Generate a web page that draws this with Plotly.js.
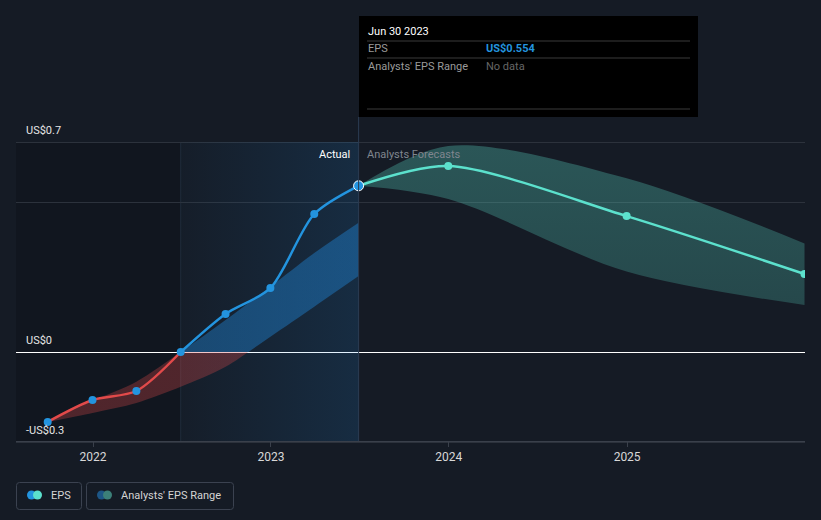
<!DOCTYPE html>
<html>
<head>
<meta charset="utf-8">
<script src="https://cdn.plot.ly/plotly-3.0.1.min.js"></script>
<style>
html,body{margin:0;padding:0;background:#151b25;}
#chart{width:821px;height:520px;}
</style>
</head>
<body>
<div id="chart"></div>
<script>
// ---- data ----
const actualDates = ['2021-09-30','2021-12-31','2022-03-31','2022-06-30','2022-09-30','2022-12-31','2023-03-31','2023-06-30'];
const actualEps   = [-0.233, -0.16, -0.13, 0.0, 0.127, 0.213, 0.46, 0.554];

const rangeDates  = ['2021-09-30','2021-12-31','2022-03-31','2022-06-30','2022-09-30','2022-12-31','2023-03-31','2023-06-30'];
const rangeHigh   = [-0.233, -0.163, -0.099, 0.0, 0.107, 0.218, 0.33, 0.431];
const rangeLow    = [-0.233, -0.203, -0.17, -0.116, -0.049, 0.051, 0.151, 0.253];

const forecastDates = ['2023-06-30','2023-12-31','2024-12-31','2025-12-31'];
const forecastEps   = [0.554, 0.62, 0.453, 0.26];
const forecastHigh  = [0.554, 0.687, 0.579, 0.362];
const forecastLow   = [0.554, 0.51, 0.268, 0.157];

const yTickVals  = [-0.3, 0, 0.5, 0.7];
const yTickText  = ['-US$0.3', 'US$0', '', 'US$0.7'];
const xTickVals  = ['2022-01-01','2023-01-01','2024-01-01','2025-01-01'];
const xTickText  = ['2022','2023','2024','2025'];

const tooltipDate  = 'Jun 30 2023';
const tooltipEps   = 'US$0.554';
const tooltipRange = 'No data';

// split index where the actual series crosses zero
const splitIdx = 3;
const pastStart = actualDates[splitIdx];        // start of highlighted year
const pastEnd   = actualDates[actualDates.length - 1];

const BLUE = '#2394df', TEAL = '#5ce1cd', RED = '#e24a4a';
const FONT = 'Roboto, "Open Sans", sans-serif';

const traces = [
  // highlighted "last year" background with horizontal gradient
  {x:[pastStart, pastEnd, pastEnd, pastStart, pastStart], y:[-0.3,-0.3,0.7,0.7,-0.3],
   mode:'lines', line:{width:0}, fill:'toself', hoverinfo:'skip', showlegend:false,
   fillgradient:{type:'horizontal', colorscale:[[0,'rgba(33,150,243,0.02)'],[1,'rgba(33,150,243,0.14)']]}},
  // past analysts' range
  {x:rangeDates, y:rangeLow, mode:'lines', line:{width:0, shape:'spline', smoothing:0.8}, hoverinfo:'skip', showlegend:false},
  {x:rangeDates, y:rangeHigh, mode:'lines', line:{width:0, shape:'spline', smoothing:0.8}, fill:'tonexty', hoverinfo:'skip', showlegend:false,
   fillgradient:{type:'vertical', start:-0.3, stop:0.7,
     colorscale:[[0,'rgba(226,74,74,0.30)'],[0.2999,'rgba(226,74,74,0.30)'],[0.3001,'rgba(33,150,243,0.36)'],[1,'rgba(33,150,243,0.36)']]}},
  // forecast range
  {x:forecastDates, y:forecastLow, mode:'lines', line:{width:0, shape:'spline', smoothing:0.9}, hoverinfo:'skip', showlegend:false},
  {x:forecastDates, y:forecastHigh, mode:'lines', line:{width:0, shape:'spline', smoothing:0.9}, fill:'tonexty', hoverinfo:'skip', showlegend:false,
   fillgradient:{type:'vertical', start:0.1, stop:0.7,
     colorscale:[[0,'rgba(94,225,205,0.22)'],[1,'rgba(94,225,205,0.30)']]}},
  // actual EPS: negative part red, rest blue
  {x:actualDates.slice(0, splitIdx+1), y:actualEps.slice(0, splitIdx+1), mode:'lines',
   line:{color:RED, width:2.5, shape:'spline', smoothing:0.8}, hoverinfo:'skip', showlegend:false},
  {x:actualDates.slice(splitIdx), y:actualEps.slice(splitIdx), mode:'lines',
   line:{color:BLUE, width:2.5, shape:'spline', smoothing:0.8}, hoverinfo:'skip', showlegend:false},
  // forecast line
  {x:forecastDates, y:forecastEps, mode:'lines', line:{color:TEAL, width:2.5, shape:'spline', smoothing:0.8}, hoverinfo:'skip', showlegend:false},
  // markers
  {x:forecastDates.slice(1), y:forecastEps.slice(1), mode:'markers', marker:{color:TEAL, size:8}, hoverinfo:'skip', showlegend:false},
  {x:actualDates.slice(0,-1), y:actualEps.slice(0,-1), mode:'markers', marker:{color:BLUE, size:8}, hoverinfo:'skip', showlegend:false},
  {x:actualDates.slice(-1), y:actualEps.slice(-1), mode:'markers', marker:{color:BLUE, size:10, line:{color:'#ffffff', width:1}}, hoverinfo:'skip', showlegend:false}
];

function px(x){ return x/821; }
function py(y){ return (520-y)/520; }
function roundRect(x0,y0,x1,y1,r){
  const X0=px(x0), X1=px(x1), Y0=py(y0), Y1=py(y1), rx=r/821, ry=r/520;
  return `M${X0+rx},${Y0} L${X1-rx},${Y0} Q${X1},${Y0} ${X1},${Y0-ry} L${X1},${Y1+ry} Q${X1},${Y1} ${X1-rx},${Y1} L${X0+rx},${Y1} Q${X0},${Y1} ${X0},${Y1+ry} L${X0},${Y0-ry} Q${X0},${Y0} ${X0+rx},${Y0} Z`;
}

const shapes = [
  // darker area before the highlighted year
  {type:'rect', layer:'below', xref:'x', yref:'y', x0:'2021-07-27', x1:pastStart, y0:-0.3, y1:0.7, fillcolor:'rgba(0,0,0,0.16)', line:{width:0}},
  {type:'line', layer:'below', xref:'x', yref:'y', x0:pastStart, x1:pastStart, y0:-0.3, y1:0.7, line:{color:'#1f2b3a', width:1}},
  {type:'line', layer:'above', xref:'x', yref:'paper', x0:pastEnd, x1:pastEnd, y0:py(441), y1:py(117), line:{color:'#2a3c52', width:1}},
  // tooltip
  {type:'rect', layer:'above', xref:'paper', yref:'paper', x0:px(359), x1:px(698), y0:py(117), y1:py(16), fillcolor:'#000000', line:{width:0}},
  {type:'line', layer:'above', xref:'paper', yref:'paper', x0:px(367), x1:px(690), y0:py(41), y1:py(41), line:{color:'#3a3a3a', width:1}},
  {type:'line', layer:'above', xref:'paper', yref:'paper', x0:px(367), x1:px(690), y0:py(58), y1:py(58), line:{color:'#3a3a3a', width:1}},
  {type:'line', layer:'above', xref:'paper', yref:'paper', x0:px(367), x1:px(690), y0:py(109), y1:py(109), line:{color:'#3a3a3a', width:1}},
  // legend boxes
  {type:'path', layer:'above', xref:'paper', yref:'paper', path:roundRect(16.5,482.5,81.5,509.5,3), line:{color:'#3b4250', width:1}},
  {type:'path', layer:'above', xref:'paper', yref:'paper', path:roundRect(86.5,482.5,233.5,509.5,3), line:{color:'#3b4250', width:1}},
  {type:'circle', layer:'above', xref:'paper', yref:'paper', x0:px(27), x1:px(36), y0:py(499.5), y1:py(490.5), fillcolor:BLUE, line:{width:0}},
  {type:'circle', layer:'above', xref:'paper', yref:'paper', x0:px(33), x1:px(42), y0:py(499.5), y1:py(490.5), fillcolor:TEAL, line:{width:0}},
  {type:'circle', layer:'above', xref:'paper', yref:'paper', x0:px(97), x1:px(106), y0:py(499.5), y1:py(490.5), fillcolor:'#1d5686', line:{width:0}},
  {type:'circle', layer:'above', xref:'paper', yref:'paper', x0:px(103), x1:px(112), y0:py(499.5), y1:py(490.5), fillcolor:'#3c8079', line:{width:0}}
];

const ann = (x,y,text,color,size,xanchor,extra) => Object.assign({xref:'paper', yref:'paper', x:px(x), y:py(y), text, showarrow:false,
  xanchor:xanchor||'left', yanchor:'middle', font:{family:FONT, size:size||11, color}}, extra||{});

const annotations = [
  {xref:'x', yref:'y', x:pastEnd, y:0.66, xshift:-7, text:'Actual', showarrow:false, xanchor:'right', yanchor:'middle', font:{family:FONT, size:11, color:'#ffffff'}},
  {xref:'x', yref:'y', x:pastEnd, y:0.66, xshift:6, text:'Analysts Forecasts', showarrow:false, xanchor:'left', yanchor:'middle', font:{family:FONT, size:11, color:'#80868f'}},
  ann(366, 31, tooltipDate, '#ffffff', 11),
  ann(366, 48, 'EPS', '#9a9a9a', 11),
  ann(484, 48, '<b>'+tooltipEps+'</b>', BLUE, 11),
  ann(366, 66, "Analysts' EPS Range", '#9a9a9a', 11),
  ann(484, 66, tooltipRange, '#666666', 11),
  ann(49, 495, 'EPS', '#d4d4d4', 11),
  ann(119, 495, "Analysts' EPS Range", '#d4d4d4', 11)
];

const layout = {
  width:821, height:520,
  margin:{l:0, r:0, t:0, b:0},
  paper_bgcolor:'#151b25', plot_bgcolor:'rgba(0,0,0,0)',
  font:{family:FONT, color:'#d4d4d4', size:11},
  showlegend:false,
  xaxis:{type:'date', domain:[16/821, 805/821], range:['2021-07-27','2026-01-01'],
    anchor:'free', position:(520-441)/520,
    tickvals:xTickVals, ticktext:xTickText, ticks:'outside', ticklen:5, tickcolor:'#3a404b',
    showline:true, linecolor:'#3a404b', linewidth:1, showgrid:false, zeroline:false,
    tickfont:{family:FONT, size:12, color:'#d8d8d8'}, fixedrange:true},
  yaxis:{range:[-0.56, 1.17333], domain:[0,1], anchor:'x',
    tickvals:yTickVals, ticktext:yTickText, ticklabelposition:'inside top', ticklabelstandoff:7, ticklabelshift:-4,
    showgrid:true, gridcolor:'#2c323c', gridwidth:1, zeroline:true, zerolinecolor:'#ffffff', zerolinewidth:1,
    showline:false, ticks:'', tickfont:{family:FONT, size:11, color:'#e6e6e6'}, fixedrange:true},
  shapes, annotations
};

Plotly.newPlot('chart', traces, layout, {staticPlot:true, displayModeBar:false});
</script>
</body>
</html>
